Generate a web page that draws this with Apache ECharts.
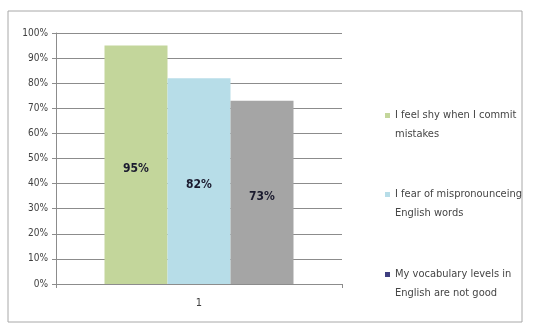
<!DOCTYPE html>
<html>
<head>
<meta charset="utf-8">
<script src="https://cdn.jsdelivr.net/npm/echarts@6/dist/echarts.min.js"></script>
<style>
  html, body { margin: 0; padding: 0; background: #fff; }
  #chart { width: 537px; height: 329px; }
</style>
</head>
<body>
<div id="chart"></div>
<script>
// Survey answers: share of respondents agreeing with each statement
const categories = ['1'];
const seriesNames = [
  'I feel shy when I commit mistakes',
  'I fear of mispronounceing English words',
  'My vocabulary levels in English are not good'
];
const seriesValues = [[95], [82], [73]];
const yTicks = [0, 10, 20, 30, 40, 50, 60, 70, 80, 90, 100];

const barColors = ['#c3d69b', '#b7dde8', '#a5a5a5'];
const legendColors = ['#c3d69b', '#b7dde8', '#3f3f80'];
const legendTops = [106, 185, 265];
const font = '"Liberation Sans Narrow", "DejaVu Sans Condensed", sans-serif';

// Legend marker: a small square sitting beside the first text line.
// The trailing move-to stretches the icon box to the height of one line
// plus the square, so the two-line label stays aligned with its top line.
const lineH = 19;
const markerSize = 5;
const legendIcon = 'path://M0,0L' + markerSize + ',0L' + markerSize + ',' + markerSize +
  'L0,' + markerSize + 'Z M0,' + (lineH + markerSize);

const chart = echarts.init(document.getElementById('chart'), null, { renderer: 'canvas' });

const series = seriesNames.map((name, i) => ({
  name: name,
  type: 'bar',
  data: seriesValues[i],
  barWidth: 63,
  barGap: '0%',
  itemStyle: { color: barColors[i] },
  label: {
    show: true,
    position: 'inside',
    offset: [0, 4],
    formatter: '{c}%',
    color: '#1a1a2e',
    fontWeight: 'bold',
    fontSize: 12,
    fontFamily: font
  }
}));

const legends = seriesNames.map((name, i) => ({
  data: [{ name: name, itemStyle: { color: legendColors[i] } }],
  left: 385,
  top: legendTops[i],
  orient: 'vertical',
  icon: legendIcon,
  itemWidth: markerSize,
  itemHeight: lineH + markerSize,
  itemGap: 0,
  padding: 0,
  selectedMode: false,
  textStyle: {
    color: '#454545',
    fontSize: 11,
    fontFamily: font,
    width: 132,
    overflow: 'break',
    lineHeight: lineH
  }
}));

chart.setOption({
  animation: false,
  backgroundColor: '#fff',
  grid: { left: 56, right: 195, top: 33, bottom: 45 },
  legend: legends,
  graphic: [{
    type: 'rect',
    shape: { x: 8, y: 11, width: 514, height: 311 },
    style: { fill: 'none', stroke: '#a8a8a8', lineWidth: 1 },
    silent: true
  }],
  xAxis: {
    type: 'category',
    data: categories,
    axisLine: { lineStyle: { color: '#8c8c8c' } },
    axisTick: { show: true, length: 4, lineStyle: { color: '#8c8c8c' } },
    axisLabel: { color: '#404040', fontSize: 11, fontFamily: font, margin: 14 }
  },
  yAxis: {
    type: 'value',
    min: yTicks[0],
    max: yTicks[yTicks.length - 1],
    interval: 10,
    axisLine: { show: true, lineStyle: { color: '#8c8c8c' } },
    axisTick: { show: true, length: 4, lineStyle: { color: '#8c8c8c' } },
    axisLabel: { color: '#404040', fontSize: 10, fontFamily: font, formatter: '{value}%', margin: 8 },
    splitLine: { lineStyle: { color: '#8c8c8c', width: 1 } }
  },
  series: series
});
</script>
</body>
</html>
